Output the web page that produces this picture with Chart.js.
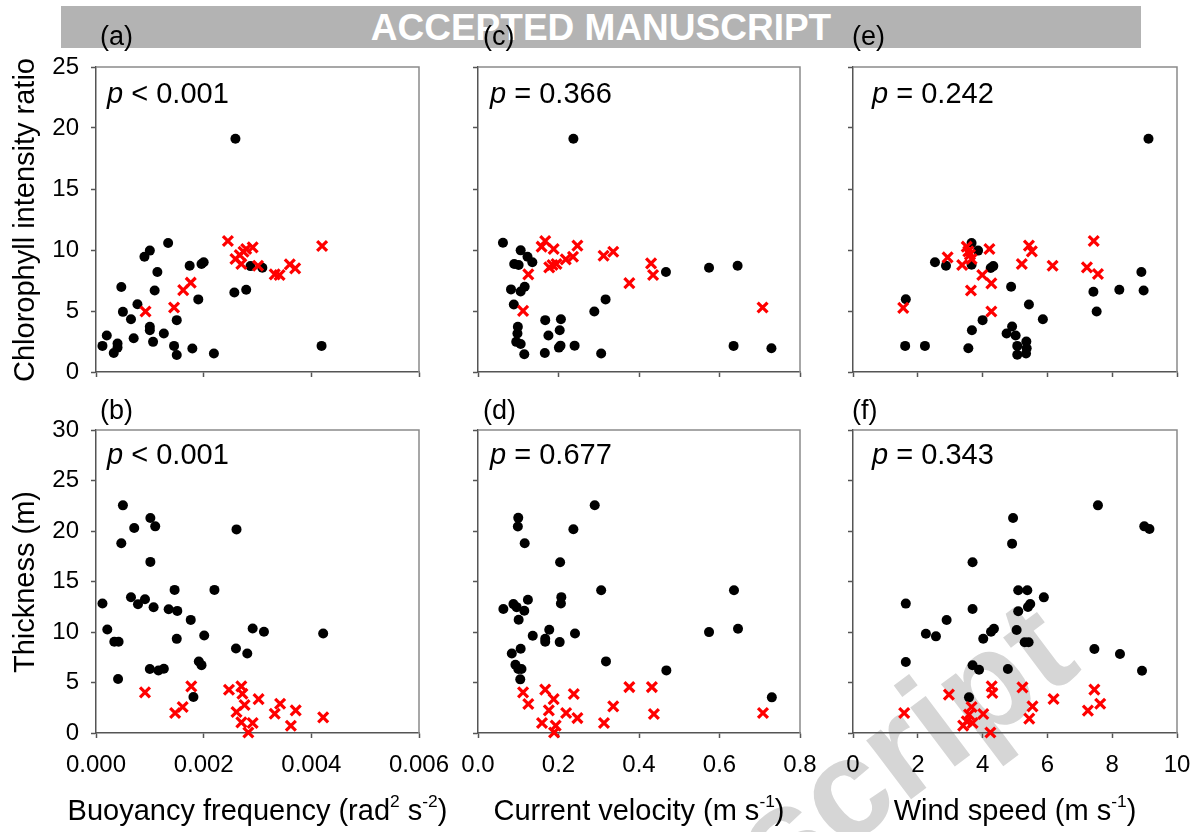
<!DOCTYPE html>
<html><head><meta charset="utf-8">
<script src="https://cdn.jsdelivr.net/npm/chart.js@4"></script>
<style>
html,body{margin:0;padding:0;width:1199px;height:832px;overflow:hidden;background:#fff;font-family:"Liberation Sans",Arial,sans-serif;}
.abs{position:absolute;white-space:nowrap;line-height:1;color:#000;}
canvas{position:absolute;left:0;top:0;}
.sup{font-size:0.6em;vertical-align:0.75em;line-height:0;}
.pv{font-size:29px;}
.pl{font-size:27px;}
.xt{font-size:29px;transform:translateX(-50%);top:796px;}
.yt{font-size:29px;transform:translate(-50%,-50%) rotate(-90deg);left:24px;}
</style></head><body>
<div class="abs" style="left:61px;top:6px;width:1080px;height:42px;background:#b3b3b3;"></div>
<div class="abs" style="left:61px;top:9px;width:1080px;text-align:center;font-weight:bold;font-size:37px;color:#fff;">ACCEPTED MANUSCRIPT</div>
<canvas id="wm" width="1199" height="832"></canvas>

<canvas id="ca" width="1199" height="832"></canvas>
<canvas id="cc" width="1199" height="832"></canvas>
<canvas id="ce" width="1199" height="832"></canvas>
<canvas id="cb" width="1199" height="832"></canvas>
<canvas id="cd" width="1199" height="832"></canvas>
<canvas id="cf" width="1199" height="832"></canvas>

<div class="abs pl" style="left:100px;top:23px;">(a)</div>
<div class="abs pl" style="left:483px;top:23px;">(c)</div>
<div class="abs pl" style="left:852px;top:23px;">(e)</div>
<div class="abs pl" style="left:100px;top:397px;">(b)</div>
<div class="abs pl" style="left:483px;top:397px;">(d)</div>
<div class="abs pl" style="left:852px;top:397px;">(f)</div>

<div class="abs pv" style="left:107px;top:79px;"><i>p</i> &lt; 0.001</div>
<div class="abs pv" style="left:490px;top:79px;"><i>p</i> = 0.366</div>
<div class="abs pv" style="left:872px;top:79px;"><i>p</i> = 0.242</div>
<div class="abs pv" style="left:107px;top:439.5px;"><i>p</i> &lt; 0.001</div>
<div class="abs pv" style="left:490px;top:439.5px;"><i>p</i> = 0.677</div>
<div class="abs pv" style="left:872px;top:439.5px;"><i>p</i> = 0.343</div>

<div class="abs yt" style="top:219.5px;">Chlorophyll intensity ratio</div>
<div class="abs yt" style="top:581.5px;">Thickness (m)</div>
<div class="abs xt" style="left:257.5px;">Buoyancy frequency (rad<span class="sup">2</span> s<span class="sup">-2</span>)</div>
<div class="abs xt" style="left:639px;">Current velocity (m s<span class="sup">-1</span>)</div>
<div class="abs xt" style="left:1015px;">Wind speed (m s<span class="sup">-1</span>)</div>

<script>
// ---- tick values / labels ----
const nTicks = [0, 0.002, 0.004, 0.006];
const nTickLabels = ['0.000', '0.002', '0.004', '0.006'];
const vTicks = [0, 0.2, 0.4, 0.6, 0.8];
const vTickLabels = ['0.0', '0.2', '0.4', '0.6', '0.8'];
const wTicks = [0, 2, 4, 6, 8, 10];
const wTickLabels = ['0', '2', '4', '6', '8', '10'];
const chlTicks = [0, 5, 10, 15, 20, 25];
const chlTickLabels = ['0', '5', '10', '15', '20', '25'];
const thkTicks = [0, 5, 10, 15, 20, 25, 30];
const thkTickLabels = ['0', '5', '10', '15', '20', '25', '30'];

// ---- (a) buoyancy frequency vs chlorophyll ratio ----
const aBlackX = [0.00259,0.00134,0.00100,0.00090,0.00114,0.00174,0.00196,0.00200,0.00047,0.00109,0.00257,0.00279,0.00287,0.00309,0.00190,0.00077,0.00050,0.00065,0.00150,0.00100,0.00100,0.00126,0.00070,0.00106,0.00020,0.00012,0.00040,0.00040,0.00033,0.00145,0.00150,0.00179,0.00219,0.00419];
const aBlackY = [19.12,10.58,9.95,9.45,8.19,8.71,8.85,8.99,6.96,6.68,6.52,6.74,8.68,8.55,5.95,5.56,4.93,4.33,4.25,3.70,3.42,3.15,2.77,2.47,2.99,2.14,2.33,2.00,1.56,2.14,1.40,1.92,1.51,2.14];
const aRedX = [0.00092,0.00145,0.00162,0.00176,0.00245,0.00259,0.00267,0.00270,0.00274,0.00279,0.00291,0.00301,0.00332,0.00341,0.00360,0.00370,0.00420];
const aRedY = [4.96,5.29,6.71,7.32,10.74,9.26,9.59,8.85,9.86,10.08,10.22,8.71,8.00,7.95,8.82,8.49,10.33];

// ---- (b) buoyancy frequency vs thickness ----
const bBlackX = [0.00050,0.00101,0.00110,0.00071,0.00047,0.00261,0.00101,0.00146,0.00220,0.00012,0.00065,0.00078,0.00091,0.00107,0.00135,0.00151,0.00176,0.00021,0.00034,0.00042,0.00150,0.00201,0.00291,0.00312,0.00422,0.00260,0.00281,0.00191,0.00196,0.00100,0.00116,0.00126,0.00041,0.00181];
const bBlackY = [22.54,21.28,20.46,20.30,18.78,20.16,16.94,14.17,14.17,12.82,13.44,12.75,13.25,12.45,12.26,12.09,11.20,10.25,9.03,9.03,9.32,9.65,10.35,10.02,9.85,8.37,7.87,7.08,6.72,6.33,6.19,6.36,5.34,3.56];
const bRedX = [0.00091,0.00147,0.00161,0.00177,0.00247,0.00270,0.00272,0.00261,0.00276,0.00270,0.00291,0.00283,0.00302,0.00332,0.00342,0.00362,0.00371,0.00422];
const bRedY = [4.02,1.98,2.57,4.61,4.28,4.61,3.89,2.08,2.77,1.05,0.99,0.05,3.36,1.91,2.90,0.72,2.24,1.55];

// ---- (c) current velocity vs chlorophyll ratio ----
const cBlackX = [0.237,0.062,0.106,0.123,0.135,0.090,0.101,0.467,0.574,0.645,0.082,0.106,0.116,0.317,0.089,0.289,0.167,0.206,0.099,0.098,0.203,0.175,0.095,0.106,0.240,0.201,0.205,0.115,0.166,0.306,0.635,0.729];
const cBlackY = [19.12,10.60,9.97,9.45,8.99,8.85,8.77,8.19,8.55,8.71,6.77,6.60,6.99,5.95,5.53,4.96,4.25,4.33,3.70,3.15,3.42,2.99,2.47,2.30,2.16,2.00,2.16,1.45,1.56,1.51,2.14,1.95];
const cRedX = [0.112,0.125,0.158,0.167,0.188,0.177,0.185,0.195,0.218,0.236,0.247,0.312,0.336,0.376,0.430,0.435,0.707];
const cRedY = [5.01,8.00,10.27,10.74,10.08,8.58,8.77,8.85,9.23,9.45,10.36,9.53,9.86,7.29,8.90,7.95,5.29];

// ---- (d) current velocity vs thickness ----
const dBlackX = [0.290,0.100,0.099,0.237,0.116,0.204,0.306,0.636,0.207,0.206,0.124,0.063,0.088,0.096,0.115,0.101,0.177,0.646,0.574,0.136,0.241,0.167,0.167,0.203,0.106,0.084,0.318,0.093,0.100,0.108,0.105,0.468,0.730];
const dBlackY = [22.55,21.30,20.44,20.18,18.79,16.91,14.14,14.14,13.45,12.83,13.19,12.27,12.76,12.46,12.10,11.21,10.22,10.32,9.99,9.63,9.86,9.33,9.03,9.00,8.34,7.88,7.09,6.76,6.33,6.33,5.31,6.20,3.53];
const dRedX = [0.112,0.125,0.167,0.188,0.176,0.159,0.193,0.189,0.219,0.238,0.247,0.313,0.336,0.376,0.432,0.437,0.708];
const dRedY = [4.02,2.87,4.29,3.36,2.24,0.99,0.73,0.05,1.98,3.86,1.48,0.99,2.64,4.55,4.55,1.88,1.98];

// ---- (e) wind speed vs chlorophyll ratio ----
const eBlackX = [9.12,3.66,3.86,2.53,2.87,3.66,4.25,4.33,8.90,8.22,8.97,7.42,4.88,5.43,7.52,1.63,5.86,4.00,3.67,4.91,4.74,5.02,5.35,5.07,5.36,5.07,5.34,1.61,2.22,3.56];
const eBlackY = [19.12,10.58,9.95,8.99,8.71,8.79,8.52,8.68,8.19,6.74,6.68,6.58,6.99,5.53,4.96,5.97,4.33,4.25,3.42,3.73,3.15,2.99,2.49,2.14,1.95,1.42,1.51,2.14,2.14,1.95];
const eRedX = [1.55,2.92,3.37,3.51,3.56,3.61,3.66,3.64,3.99,4.21,4.27,4.27,5.21,5.43,5.52,6.16,7.22,7.43,7.56];
const eRedY = [5.26,9.40,8.77,10.27,9.89,9.62,9.26,6.68,7.95,10.08,7.26,4.96,8.85,10.36,9.89,8.71,8.58,10.74,8.03];

// ---- (f) wind speed vs thickness ----
const fBlackX = [7.56,4.94,8.99,9.15,4.91,3.69,5.10,5.38,5.89,5.47,5.40,5.10,1.63,3.69,2.89,4.35,4.26,5.05,2.25,2.56,4.02,5.30,5.42,7.45,8.24,8.92,1.63,3.69,3.89,4.78,3.58];
const fBlackY = [22.54,21.29,20.46,20.20,18.75,16.90,14.13,14.13,13.43,12.77,12.48,12.05,12.81,12.28,11.19,10.33,10.03,10.20,9.83,9.57,9.34,8.98,8.98,8.32,7.82,6.17,7.03,6.70,6.27,6.34,3.53];
const fRedX = [1.58,2.96,3.40,3.51,3.58,3.66,3.69,4.02,4.28,4.30,4.24,5.23,5.54,5.44,6.19,7.25,7.45,7.63];
const fRedY = [1.98,3.80,0.73,1.16,1.82,2.57,0.99,1.88,4.62,3.96,0.05,4.52,2.64,1.42,3.37,2.21,4.29,2.90];

const FONT = '"Liberation Sans", Arial, sans-serif';
const W = 1199, H = 832, YW = 70, XH = 60;

// light grey diagonal watermark fragment, behind the charts
(function () {
  const ctx = document.getElementById('wm').getContext('2d');
  ctx.save();
  ctx.translate(779, 899);
  ctx.rotate(-37 * Math.PI / 180);
  ctx.font = 'bold 140px "Liberation Sans", Arial, sans-serif';
  ctx.fillStyle = '#d6d6d6';
  ctx.textBaseline = 'alphabetic';
  ctx.fillText('script', 0, 0);
  ctx.restore();
})();

const framePlugin = {
  id: 'frame',
  beforeDatasetsDraw(chart) {
    const { ctx, chartArea: a } = chart;
    ctx.save();
    ctx.strokeStyle = '#8a8a8a';
    ctx.lineWidth = 1.5;
    ctx.beginPath();
    ctx.moveTo(a.left, a.top);
    ctx.lineTo(a.right, a.top);
    ctx.lineTo(a.right, a.bottom);
    ctx.stroke();
    ctx.restore();
  }
};

function zip(xs, ys) { return xs.map((x, i) => ({ x: x, y: ys[i] })); }

function axis(pos, ticks, labels, show) {
  const horiz = pos === 'bottom';
  return {
    type: 'linear', position: pos,
    min: ticks[0], max: ticks[ticks.length - 1],
    afterBuildTicks: s => { s.ticks = ticks.map(v => ({ value: v })); },
    afterFit: s => {
      if (horiz) { s.height = XH; s.paddingLeft = 0; s.paddingRight = 0; }
      else { s.width = YW; s.paddingTop = 0; s.paddingBottom = 0; }
    },
    ticks: {
      display: show, autoSkip: false, maxRotation: 0,
      callback: (v, i) => labels[i],
      font: { size: 24, family: FONT }, color: '#000',
      padding: horiz ? 13 : 12
    },
    grid: { display: true, drawOnChartArea: false, drawTicks: true, tickLength: 5, tickColor: '#555', tickWidth: 1.5 },
    border: { display: true, color: '#555', width: 1.5 }
  };
}

function panel(id, box, xt, xl, yt, yl, showX, showY, bx, by, rx, ry) {
  new Chart(document.getElementById(id), {
    type: 'scatter',
    data: {
      datasets: [
        { data: zip(rx, ry), pointStyle: 'crossRot', pointRadius: 7, pointBorderWidth: 3.2,
          pointBorderColor: '#ff0000', pointBackgroundColor: '#ff0000', clip: false },
        { data: zip(bx, by), pointStyle: 'circle', pointRadius: 5, pointBorderWidth: 0,
          pointBorderColor: '#000', pointBackgroundColor: '#000', clip: false }
      ]
    },
    options: {
      responsive: false, animation: false, devicePixelRatio: 1, events: [],
      layout: { padding: { left: box.l - YW, top: box.t, right: W - box.r, bottom: H - box.b - XH } },
      plugins: { legend: { display: false }, tooltip: { enabled: false } },
      scales: { x: axis('bottom', xt, xl, showX), y: axis('left', yt, yl, showY) }
    },
    plugins: [framePlugin]
  });
}

panel('ca', { l: 96, r: 419, t: 67, b: 372 }, nTicks, nTickLabels, chlTicks, chlTickLabels, false, true, aBlackX, aBlackY, aRedX, aRedY);
panel('cc', { l: 478, r: 800, t: 67, b: 372 }, vTicks, vTickLabels, chlTicks, chlTickLabels, false, false, cBlackX, cBlackY, cRedX, cRedY);
panel('ce', { l: 853, r: 1177, t: 67, b: 372 }, wTicks, wTickLabels, chlTicks, chlTickLabels, false, false, eBlackX, eBlackY, eRedX, eRedY);
panel('cb', { l: 96, r: 419, t: 430, b: 733 }, nTicks, nTickLabels, thkTicks, thkTickLabels, true, true, bBlackX, bBlackY, bRedX, bRedY);
panel('cd', { l: 478, r: 800, t: 430, b: 733 }, vTicks, vTickLabels, thkTicks, thkTickLabels, true, false, dBlackX, dBlackY, dRedX, dRedY);
panel('cf', { l: 853, r: 1177, t: 430, b: 733 }, wTicks, wTickLabels, thkTicks, thkTickLabels, true, false, fBlackX, fBlackY, fRedX, fRedY);
</script>
</body></html>
